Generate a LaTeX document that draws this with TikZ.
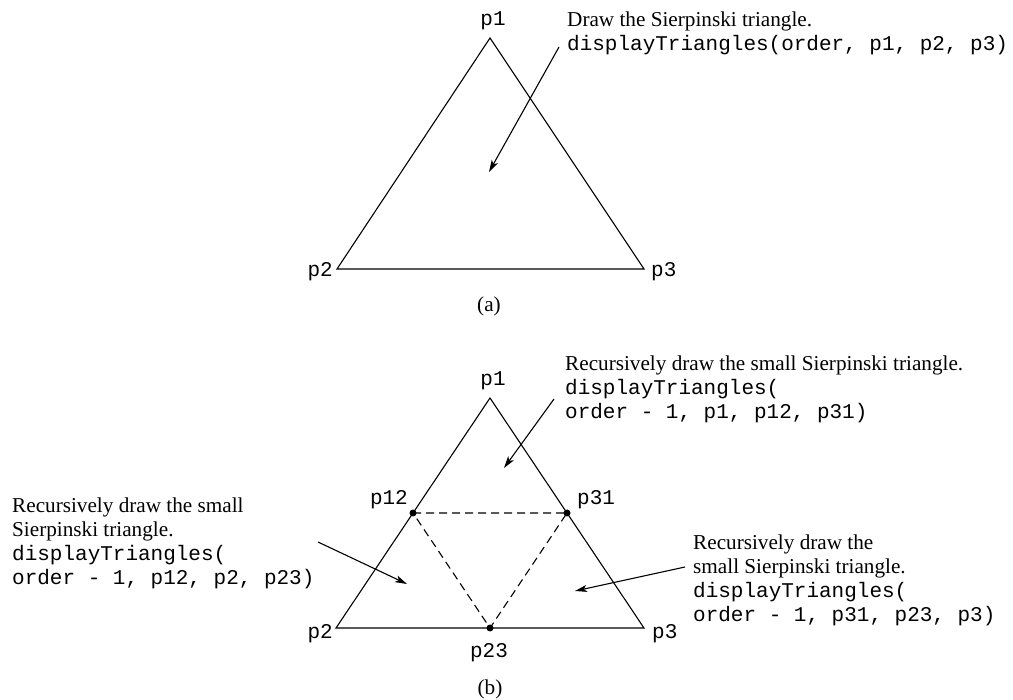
\documentclass[tikz,border=0pt]{standalone}
\usepackage{fontspec}
\setmainfont{Liberation Serif}
\setmonofont[Scale=0.99]{Liberation Mono}
\usetikzlibrary{arrows.meta}

\tikzset{
  tri/.style={line width=1.1pt},
  half/.style={line width=1.1pt, dash pattern=on 8pt off 5pt},
  pointer/.style={line width=1.1pt, -{Stealth[length=12pt,width=7pt,inset=3pt]}},
  lbl/.style={font=\fontsize{21.2}{24}\selectfont\ttfamily, inner sep=0pt},
  sublbl/.style={font=\fontsize{21.2}{24}\selectfont, inner sep=0pt, anchor=base},
  note/.style={font=\fontsize{21.2}{24}\selectfont, align=left, anchor=base west, inner sep=0pt},
  dot/.style={circle, fill, inner sep=0pt, minimum size=7pt}
}

\begin{document}
\begin{tikzpicture}[x=1pt,y=-1pt]
\useasboundingbox (0,0) rectangle (1013,700);

% (a)
\coordinate (p1) at (490,38);
\coordinate (p2) at (337,269);
\coordinate (p3) at (644,269);
\draw[tri] (p1) -- (p2) -- (p3) -- cycle;
\node[lbl, anchor=base] (l1) at (493,26) {p1};
\node[lbl, anchor=base east] (l2) at (333,277) {p2};
\node[lbl, anchor=base west] (l3) at (651,277) {p3};
\node[sublbl] (suba) at (489,312) {(a)};
\node[note] (notea) at (567,51) {Draw the Sierpinski triangle.\\
  \ttfamily displayTriangles(order, p1, p2, p3)};
\coordinate (sa) at (559,47);
\coordinate (ta) at (489,172);
\draw[pointer] (sa) -- (ta);

% (b)
\coordinate (q1) at (490,398);
\coordinate (q2) at (336,628);
\coordinate (q3) at (644,628);
\coordinate (q12) at (413,513);
\coordinate (q31) at (567,513);
\coordinate (q23) at (490,628);
\draw[tri] (q1) -- (q2) -- (q3) -- cycle;
\draw[half] (q12) -- (q31) -- (q23) -- cycle;
\foreach \q in {q12,q31,q23} \node[dot] at (\q) {};
\node[lbl, anchor=base] (m1) at (493,386) {p1};
\node[lbl, anchor=base east] (m2) at (333,638) {p2};
\node[lbl, anchor=base west] (m3) at (652,638) {p3};
\node[lbl, anchor=base east] (m12) at (408,505) {p12};
\node[lbl, anchor=base west] (m31) at (577,505) {p31};
\node[lbl, anchor=base] (m23) at (489,657) {p23};
\node[sublbl] (subb) at (490,694) {(b)};

\node[note] (noteup) at (565,419) {Recursively draw the small Sierpinski triangle.\\
  \ttfamily displayTriangles(\\ \ttfamily order - 1, p1, p12, p31)};
\node[note] (noteleft) at (12,584) {Recursively draw the small\\ Sierpinski triangle.\\
  \ttfamily displayTriangles(\\ \ttfamily order - 1, p12, p2, p23)};
\node[note] (noteright) at (693,621) {Recursively draw the\\ small Sierpinski triangle.\\
  \ttfamily displayTriangles(\\ \ttfamily order - 1, p31, p23, p3)};

\coordinate (fromup) at (554,399);
\coordinate (toup) at (504,468);
\coordinate (fromleft) at (318,542);
\coordinate (toleft) at (407,584);
\coordinate (fromright) at (685,567);
\coordinate (toright) at (575,591);
\draw[pointer] (fromup) -- (toup);
\draw[pointer] (fromleft) -- (toleft);
\draw[pointer] (fromright) -- (toright);
\end{tikzpicture}
\end{document}
